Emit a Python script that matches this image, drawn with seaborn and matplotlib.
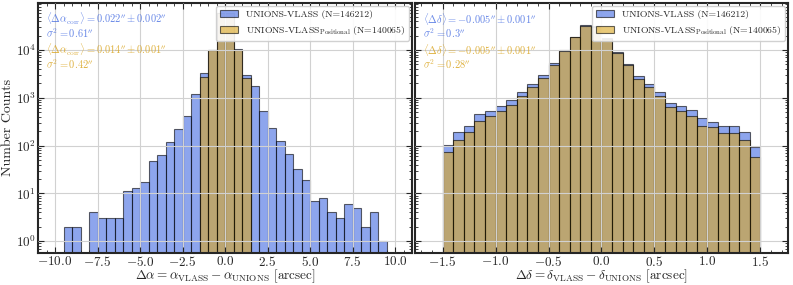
import numpy as np
import pandas as pd
import seaborn as sns
import matplotlib.pyplot as plt
from matplotlib.ticker import AutoMinorLocator

# RA offsets, 0.5" bins from -9.5 to 9.5
ra_edges = np.arange(-9.5, 9.51, 0.5)
ra_all = [2, 2, 0, 4, 3, 3, 3, 11, 13, 17, 47, 65, 122, 221, 410, 1230,
          3270, 10200, 59700, 59700, 10500, 3060, 1770, 525, 235, 125,
          68, 33, 19, 7, 8, 4, 3, 6, 5, 2, 4, 1]
ra_pos_edges = np.arange(-1.5, 1.51, 0.5)
ra_pos = [2690, 9800, 59000, 59000, 10200, 2650]

# Dec offsets, 0.1" bins from -1.5 to 1.5
dec_edges = np.linspace(-1.5, 1.5, 31)
dec_all = [105, 195, 262, 452, 525, 687, 920, 1350, 1990, 2960,
           5400, 10000, 19200, 32800, 31200, 17700, 9300, 5200, 2870, 1920,
           1310, 780, 690, 550, 370, 310, 262, 255, 190, 94]
dec_pos = [72, 134, 190, 332, 410, 525, 708, 1120, 1700, 2650,
           4980, 9700, 18500, 32300, 30200, 17000, 8800, 4800, 2520, 1650,
           1080, 630, 540, 410, 262, 250, 185, 187, 134, 59]

lab_all = 'UNIONS-VLASS (N=146212)'
lab_pos = r'UNIONS-VLASS$_{\rm Positional}$ (N=140065)'

pp = r'^{\prime\prime}'
stats_ra_all = (r'$\langle\Delta\alpha_{\rm corr}\rangle = 0.022' + pp + r' \pm 0.002' + pp + '$\n'
                r'$\sigma^2 = 0.61' + pp + '$')
stats_ra_pos = (r'$\langle\Delta\alpha_{\rm corr}\rangle = 0.014' + pp + r' \pm 0.001' + pp + '$\n'
                r'$\sigma^2 = 0.42' + pp + '$')
stats_dec_all = (r'$\langle\Delta\delta\rangle = -0.005' + pp + r' \pm 0.001' + pp + '$\n'
                 r'$\sigma^2 = 0.3' + pp + '$')
stats_dec_pos = (r'$\langle\Delta\delta\rangle = -0.005' + pp + r' \pm 0.001' + pp + '$\n'
                 r'$\sigma^2 = 0.28' + pp + '$')

sns.set_style('ticks')
plt.rcParams['font.family'] = ['cmr10', 'DejaVu Serif']
plt.rcParams['mathtext.fontset'] = 'cm'
plt.rcParams['axes.formatter.use_mathtext'] = True
plt.rcParams['axes.unicode_minus'] = True

blue = 'royalblue'
gold = 'goldenrod'
edge = (0, 0, 0, 0.6)

fig = plt.figure(figsize=(7.93, 2.85), dpi=100)
ax1 = fig.add_axes([0.048, 0.114, 0.4716, 0.875])
ax2 = fig.add_axes([0.5233, 0.114, 0.4704, 0.875], sharey=ax1)


def binned(edges, counts):
    edges = np.asarray(edges)
    return pd.DataFrame({'x': (edges[:-1] + edges[1:]) / 2, 'n': counts})


panels = [(ax1, ra_edges, ra_all, ra_pos_edges, ra_pos, stats_ra_all, stats_ra_pos),
          (ax2, dec_edges, dec_all, dec_edges, dec_pos, stats_dec_all, stats_dec_pos)]

for ax, e1, c1, e2, c2, t1, t2 in panels:
    sns.histplot(data=binned(e1, c1), x='x', weights='n', bins=list(e1), ax=ax,
                 color=blue, alpha=0.6, edgecolor=edge, linewidth=0.8,
                 label=lab_all)
    sns.histplot(data=binned(e2, c2), x='x', weights='n', bins=list(e2), ax=ax,
                 color=gold, alpha=0.6, edgecolor=edge, linewidth=0.8,
                 label=lab_pos)
    ax.set_yscale('log')
    ax.set_axisbelow(False)
    ax.grid(True, which='major', color='0.82', linewidth=0.8)
    ax.tick_params(which='both', direction='in', top=True, right=True,
                   labelsize=9.5, pad=1.5)
    ax.tick_params(which='major', length=4)
    ax.tick_params(which='minor', length=2)
    ax.xaxis.set_minor_locator(AutoMinorLocator(5))
    for s in ax.spines.values():
        s.set_linewidth(1.5)
    ax.legend(loc='upper right', fontsize=7, borderaxespad=0.3,
              handlelength=1.8, handletextpad=0.8, framealpha=0.9)
    ax.text(0.022, 0.968, t1, transform=ax.transAxes, color=blue, alpha=0.8,
            fontsize=7.5, va='top', linespacing=0.95)
    ax.text(0.022, 0.845, t2, transform=ax.transAxes, color=gold, alpha=0.85,
            fontsize=7.5, va='top', linespacing=0.95)

ax1.set_ylim(0.58, 9.6e4)
ax1.set_xlim(-11, 11)
ax1.set_xticks([-10, -7.5, -5, -2.5, 0, 2.5, 5, 7.5, 10])
ax2.set_xlim(-1.76, 1.76)
ax2.tick_params(labelleft=False)

ax1.set_ylabel('Number Counts', fontsize=10, labelpad=1)
ax2.set_ylabel('')
ax1.set_xlabel(r'$\Delta\alpha = \alpha_{\rm VLASS} - \alpha_{\rm UNIONS}$ [arcsec]',
               fontsize=9.5, labelpad=-0.5)
ax2.set_xlabel(r'$\Delta\delta = \delta_{\rm VLASS} - \delta_{\rm UNIONS}$ [arcsec]',
               fontsize=9.5, labelpad=-0.5)

fig.savefig('out.png', dpi=100)
